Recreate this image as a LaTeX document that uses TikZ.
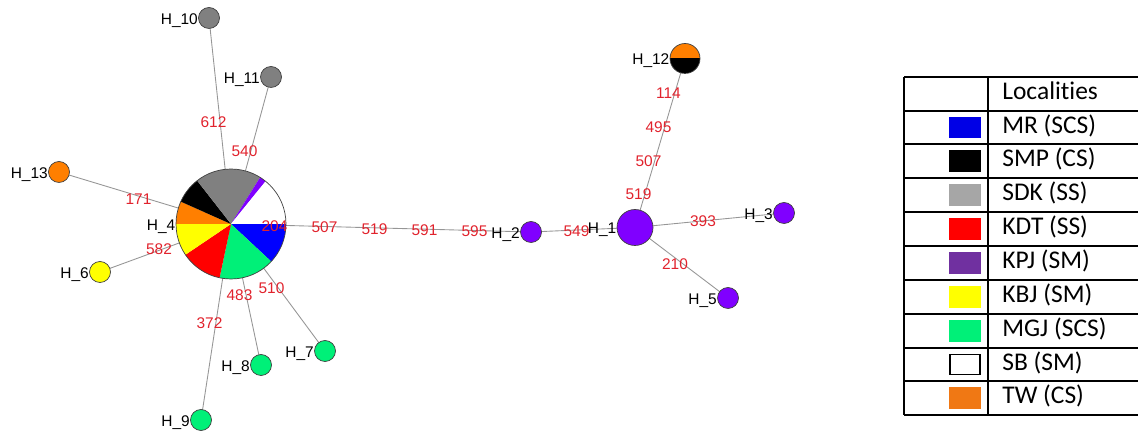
\documentclass[tikz,border=0pt]{standalone}
\usepackage{fontspec}
\setmainfont{Liberation Sans}
\newfontfamily\legendfont[Ligatures=NoCommon]{Carlito}
\usepackage{tikz}
\usetikzlibrary{backgrounds}
\usepackage{xcolor}
\definecolor{hapblue}{RGB}{0,0,255}
\definecolor{hapgreen}{RGB}{0,240,120}
\definecolor{hapred}{RGB}{255,0,0}
\definecolor{hapyellow}{RGB}{255,255,0}
\definecolor{haporange}{RGB}{255,127,0}
\definecolor{hapgrey}{RGB}{128,128,128}
\definecolor{happurple}{RGB}{128,0,255}
\definecolor{edgegrey}{RGB}{150,150,150}
\definecolor{labelred}{RGB}{225,35,45}
\definecolor{legblue}{RGB}{0,0,230}
\definecolor{leggrey}{RGB}{166,166,166}
\definecolor{legpurple}{RGB}{112,48,160}
\definecolor{legorange}{RGB}{240,120,20}

\begin{document}
\begin{tikzpicture}[x=0.02cm, y=0.02cm,
    hlabel/.style={font=\fontsize{8.8}{10}\selectfont, text=black, text height=0.716em, text depth=0pt, inner sep=0pt},
    hap/.style={circle, draw=black!75, line width=0.4pt, minimum size=0.42cm, inner sep=0pt, label distance=2pt, label={[hlabel]left:#1}},
    link/.style={draw=edgegrey, line width=0.5pt},
    el/.style={pos=0.5, font=\fontsize{8.8}{10}\selectfont, text=labelred, text height=0.716em, text depth=0pt, inner sep=0pt, xshift=-0.13cm},
    legline/.style={line width=1.1pt},
    legtext/.style={anchor=west, font=\legendfont\fontsize{14.5}{16}\selectfont, text height=0.64em, text depth=0pt, inner sep=0pt},
    swatch/.style={rectangle, minimum width=0.6cm, minimum height=0.4cm, inner sep=0pt, line width=1pt}
]
\useasboundingbox (0,0) rectangle (1138,432);

% pie of H_4
\foreach \s/\e/\c in {0/-43/hapblue, -43/-102/hapgreen, -102/-146/hapred, -146/-180/hapyellow, 180/156/haporange, 156/128/black, 128/58/hapgrey, 58/51/happurple, 51/0/white}
    \fill[\c] (231,208) -- ++(\s:1.1cm) arc (\s:\e:1.1cm) -- cycle;
\node[hap=H\_4, minimum size=2.2cm] (h4) at (231,208) {};

% haplotypes
\node[hap=H\_10, fill=hapgrey] (h10) at (209,414) {};
\node[hap=H\_11, fill=hapgrey] (h11) at (271,355) {};
\node[hap=H\_13, fill=haporange] (h13) at (59,260) {};
\node[hap=H\_6, fill=hapyellow] (h6) at (100,160) {};
\node[hap=H\_7, fill=hapgreen] (h7) at (325,81) {};
\node[hap=H\_8, fill=hapgreen] (h8) at (261,67) {};
\node[hap=H\_9, fill=hapgreen] (h9) at (201,12) {};
\node[hap=H\_2, fill=happurple] (h2) at (531,200) {};
\node[hap=H\_1, fill=happurple, minimum size=0.72cm] (h1) at (635,204.5) {};
\node[hap=H\_3, fill=happurple] (h3) at (784,219) {};
\node[hap=H\_5, fill=happurple] (h5) at (728,134) {};
\node[hap=H\_12, minimum size=0.6cm, path picture={
    \fill[haporange] (path picture bounding box.north west) rectangle (path picture bounding box.east);
    \fill[black] (path picture bounding box.west) rectangle (path picture bounding box.south east);}] (h12) at (685,373.5) {};

\begin{scope}[on background layer]
\foreach \a/\b in {h4/h10, h4/h11, h4/h13, h4/h6, h4/h7, h4/h8, h4/h9, h4/h2, h2/h1, h1/h3, h1/h5, h1/h12}
    \draw[link] (\a.center) -- (\b.center);
\end{scope}

% mutation labels
\path (h4.center) -- (h10.center) node[el] (m1) {612};
\path (h4.center) -- (h11.center) node[el] (m2) {540};
\path (h4.center) -- (h13.center) node[el] (m3) {171};
\path (h4.center) -- (h6.center) node[el] (m4) {582};
\path (h4.center) -- (h8.center) node[el] (m5) {483};
\path (h4.center) -- (h7.center) node[el] (m6) {510};
\path (h4.center) -- (h9.center) node[el] (m7) {372};
\path (h4.center) -- (h2.center)
    node[el, pos=0.1667] (m8) {204} node[el, pos=0.3333] (m9) {507}
    node[el, pos=0.5] (m10) {519} node[el, pos=0.6667] (m11) {591}
    node[el, pos=0.8333] (m12) {595};
\path (h2.center) -- (h1.center) node[el] (m13) {549};
\path (h1.center) -- (h12.center)
    node[el, pos=0.2] (m14) {519} node[el, pos=0.4] (m15) {507}
    node[el, pos=0.6] (m16) {495} node[el, pos=0.8] (m17) {114};
\path (h1.center) -- (h3.center) node[el] (m18) {393};
\path (h1.center) -- (h5.center) node[el] (m19) {210};

% legend table
\foreach \i in {0,...,10}
    \draw[legline] (904,{355.3-\i*33.86}) -- (1138,{355.3-\i*33.86});
\draw[legline] (904,355.3) -- (904,16.7);
\draw[legline] (988,355.3) -- (988,16.7);
\node[legtext] (lhead) at (1002,{355.3-0.5*33.86}) {Localities};
\foreach \c/\d/\t [count=\i] in {legblue/legblue/MR (SCS), black/black/SMP (CS), leggrey/leggrey/SDK (SS), hapred/hapred/KDT (SS), legpurple/legpurple/KPJ (SM), hapyellow/hapyellow/KBJ (SM), hapgreen/hapgreen/MGJ (SCS), white/black/SB (SM), legorange/legorange/TW (CS)} {
    \node[swatch, fill=\c, draw=\d] (sw\i) at (965,{355.3-(\i+0.5)*33.86}) {};
    \node[legtext] (lt\i) at (1002,{355.3-(\i+0.5)*33.86}) {\t};
}
\end{tikzpicture}
\end{document}
